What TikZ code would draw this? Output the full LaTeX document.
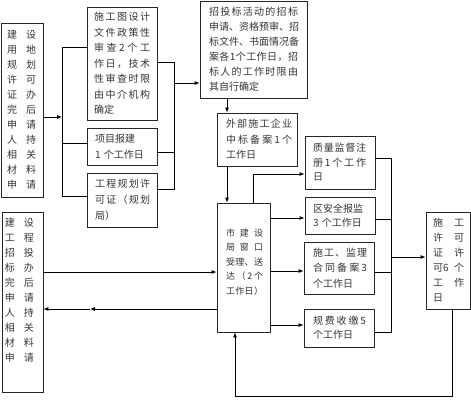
\documentclass[tikz,border=0pt]{standalone}
\usepackage{fontspec}
\newfontfamily\cjk{Noto Sans CJK SC}
\usetikzlibrary{arrows.meta}
\makeatletter
\def\spreadln#1#2{\makebox[#1][s]{\spr@first#2\relax}}
\def\spr@first#1{#1\spr@rest}
\def\spr@rest#1{\ifx\relax#1\else\hfill#1\expandafter\spr@rest\fi}
\makeatother
\newcommand{\twocol}[3][19pt]{\makebox[#1][l]{#2}#3}
\begin{document}
\begin{tikzpicture}[x=1pt,y=-1pt,
  box/.style={draw=black!85, line width=0.8pt, align=left, inner ysep=0pt, text=black!80},
  fs/.style={font=\cjk\fontsize{10}{#1}\selectfont},
  fsg/.style={font=\cjk\fontsize{9}{#1}\selectfont},
  conn/.style={line width=0.8pt, draw=black},
  arr/.style={conn, -{Latex[length=5pt,width=4pt]}},
]
\useasboundingbox (0,0) rectangle (471,400);

% boxes
\node[box, fs=15, minimum width=42pt, minimum height=174pt, text width=30pt, inner xsep=6pt] (A) at (22,110)
 {\twocol{建}{设}\\ \twocol{用}{地}\\ \twocol{规}{划}\\ \twocol{许}{可}\\ \twocol{证}{办}\\ \twocol{完}{后}\\ \twocol{申}{请}\\ \twocol{人}{持}\\ \twocol{相}{关}\\ \twocol{材}{料}\\ \twocol{申}{请}};

\node[box, fs=15.5, minimum width=70pt, minimum height=113pt, text width=56pt, inner xsep=7pt] (B) at (122,63.5)
 {\spreadln{56pt}{施工图设计}\\ \spreadln{56pt}{文件政策性}\\ \spreadln{56pt}{审查2个工}\\ \spreadln{56pt}{作日，技术}\\ \spreadln{56pt}{性审查时限}\\ \spreadln{56pt}{由中介机构}\\ 确定};

\node[box, fs=16, minimum width=70pt, minimum height=37pt, text width=54pt, inner xsep=8pt] (C) at (122,146.5)
 {项目报建\\ 1 个工作日};

\node[box, fs=16, minimum width=70pt, minimum height=54pt, text width=54pt, inner xsep=8pt] (D) at (122,200)
 {\spreadln{55pt}{工程规划许}\\ \spreadln{55pt}{可证（规划}\\ 局）};

\node[box, fs=15, minimum width=107pt, minimum height=97pt, text width=89pt, inner xsep=9pt] (E) at (253.5,49.5)
 {\spreadln{89pt}{招投标活动的招标}\\ \spreadln{89pt}{申请、资格预审、招}\\ \spreadln{89pt}{标文件、书面情况备}\\ \spreadln{89pt}{案各1个工作日，招}\\ \spreadln{89pt}{标人的工作时限由}\\ 其自行确定};

\node[box, fs=15.5, minimum width=80pt, minimum height=53pt, text width=62pt, inner xsep=9pt] (F) at (257,139.5)
 {\spreadln{66pt}{外部施工企业}\\ \spreadln{66pt}{中标备案1个}\\ 工作日};

\node[box, fsg=14.5, minimum width=53pt, minimum height=129pt, text width=35pt, inner xsep=9pt] (G) at (243.5,267.5)
 {\spreadln{37pt}{市建设}\\ \spreadln{37pt}{局窗口}\\ \spreadln{37pt}{受理、送}\\ \spreadln{37pt}{达（2个}\\ \spreadln{37pt}{工作日）}\\[-2pt]\mbox{}};

\node[box, fs=14.5, minimum width=70pt, minimum height=53pt, text width=54pt, inner xsep=8pt] (H) at (340,162.5)
 {\spreadln{53pt}{质量监督注}\\ \spreadln{53pt}{册1个工作}\\ 日};

\node[box, fs=14, minimum width=70pt, minimum height=37pt, text width=54pt, inner xsep=8pt] (I) at (340,215.5)
 {区安全报监\\ 3 个工作日};

\node[box, fs=15.5, minimum width=70pt, minimum height=52pt, text width=52pt, inner xsep=9pt] (J) at (339,268)
 {\spreadln{54pt}{施工、监理}\\ \spreadln{54pt}{合同备案3}\\ 个工作日};

\node[box, fs=14, minimum width=70pt, minimum height=38pt, text width=52pt, inner xsep=9pt] (K) at (339,328)
 {\spreadln{53pt}{规费收缴5}\\ 个工作日};

\node[box, fs=15, minimum width=44pt, minimum height=97pt, text width=30pt, inner xsep=7pt] (L) at (448,260.5)
 {\twocol[21pt]{施}{工}\\ \twocol[21pt]{许}{可}\\ \twocol[21pt]{证}{许}\\ \twocol[21pt]{可6}{个}\\ \twocol[21pt]{工}{作}\\ 日};

\node[box, fs=15, minimum width=41pt, minimum height=180pt, text width=35pt, inner xsep=3pt] (M) at (22.5,302)
 {\twocol{建}{设}\\ \twocol{工}{程}\\ \twocol{招}{投}\\ \twocol{标}{办}\\ \twocol{完}{后}\\ \twocol{申}{请}\\ \twocol{人}{持}\\ \twocol{相}{关}\\ \twocol{材}{料}\\ \twocol{申}{请}\\[9pt]\mbox{}};

% junction coordinates
\coordinate (L1) at (62,47);
\coordinate (L2) at (62,143);
\coordinate (L3) at (62,196);
\coordinate (La) at (62,117);
\coordinate (R1) at (174,62);
\coordinate (R2) at (174,152);
\coordinate (R3) at (174,189);
\coordinate (Ra) at (174,83);
\coordinate (EF) at (227,105);
\coordinate (GH) at (253,174);
\coordinate (GI) at (0,218);
\coordinate (GJ) at (0,271);
\coordinate (GK) at (0,325);
\coordinate (Q1) at (391,158);
\coordinate (Q2) at (391,219);
\coordinate (Q3) at (391,272);
\coordinate (Q4) at (391,332);
\coordinate (Qa) at (391,257);
\coordinate (B1) at (452,396);
\coordinate (B2) at (235,396);
\coordinate (MG1) at (0,272);
\coordinate (MG2) at (0,309);
\coordinate (MGm) at (90,309);

% left bracket
\draw[conn] (L1 -| B.west) -- (L1) -- (L3) -- (L3 -| D.west);
\draw[conn] (L2) -- (L2 -| C.west);
\draw[arr] (La -| A.east) -- (La);

% right bracket 1
\draw[conn] (R1 -| B.east) -- (R1) -- (R3) -- (R3 -| D.east);
\draw[conn] (R2 -| C.east) -- (R2);
\draw[arr] (Ra) -- (Ra -| E.west);

% vertical chain
\draw[arr] (EF |- E.south) -- (EF |- F.north);
\draw[arr] (EF |- F.south) -- (EF |- G.north);

% G to right boxes
\draw[arr] (GH |- G.north) -- (GH) -- (GH -| H.west);
\draw[arr] (G.east |- GI) -- (I.west |- GI);
\draw[arr] (G.east |- GJ) -- (J.west |- GJ);
\draw[arr] (G.east |- GK) -- (K.west |- GK);

% right bracket 2
\draw[conn] (Q1 -| H.east) -- (Q1) -- (Q4) -- (Q4 -| K.east);
\draw[conn] (Q2 -| I.east) -- (Q2);
\draw[conn] (Q3 -| J.east) -- (Q3);
\draw[arr] (Qa) -- (Qa -| L.west);

% bottom loop
\draw[arr] (B1 |- L.south) -- (B1) -- (B2) -- (B2 |- G.south);

% M <-> G
\draw[arr] (M.east |- MG1) -- (G.west |- MG1);
\draw[arr] (G.west |- MG2) -- (MGm);
\draw[arr] (MGm) -- (M.east |- MG2);
\end{tikzpicture}
\end{document}
